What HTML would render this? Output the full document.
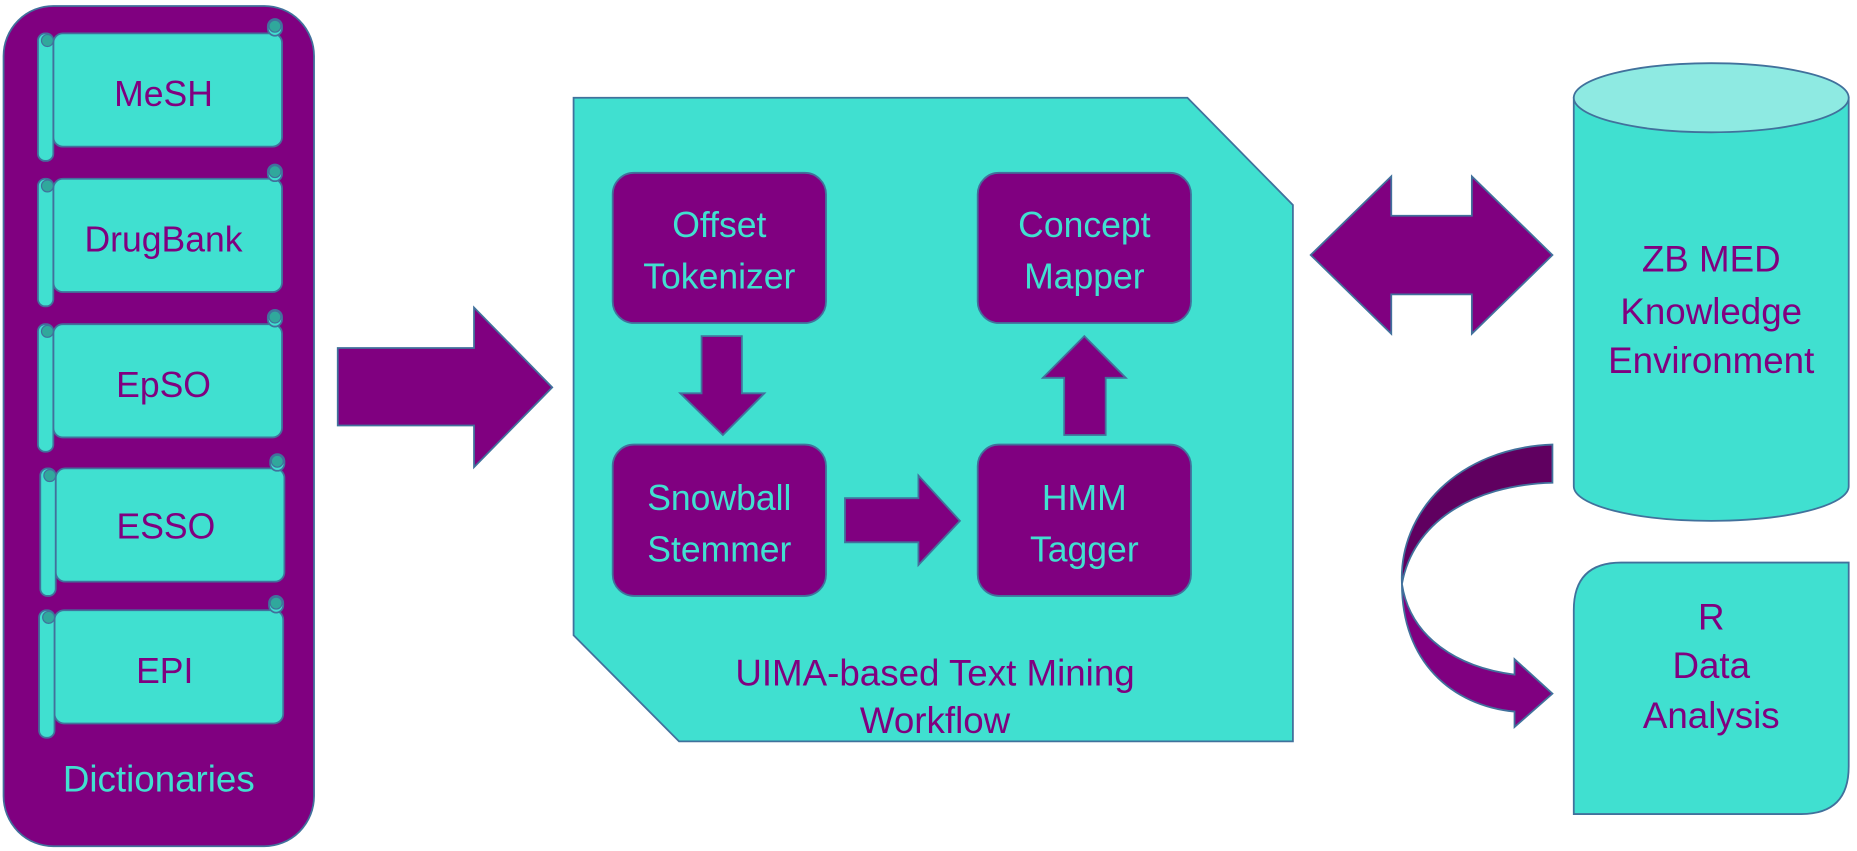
<!DOCTYPE html>
<html><head><meta charset="utf-8"><style>
html,body{margin:0;padding:0;background:#fff;overflow:hidden}
svg{display:block}
text{font-family:"Liberation Sans","DejaVu Sans",sans-serif;text-anchor:middle}
</style></head><body>
<svg width="1857" height="851" viewBox="0 0 1567 714" preserveAspectRatio="none">
<defs>
<g id="scroll">
<rect x="13" y="12" width="193" height="95" rx="8" fill="#40E0D0" stroke="#41719C" stroke-width="1.5"/>
<rect x="0" y="12" width="13" height="107" rx="6" fill="#40E0D0" stroke="#41719C" stroke-width="1.5"/>
<ellipse cx="8" cy="18" rx="5" ry="5" fill="#30a89c" stroke="#41719C" stroke-width="1"/>
<rect x="194" y="0" width="12" height="14" rx="6" fill="#40E0D0" stroke="#41719C" stroke-width="1.5"/>
<ellipse cx="200" cy="6" rx="5" ry="5" fill="#30a89c" stroke="#41719C" stroke-width="1"/>
</g>
</defs>
<g stroke="#41719C" stroke-width="1.5">
<rect x="3" y="5" width="262" height="705" rx="42" fill="#800080"/>
</g>
<use href="#scroll" x="32" y="16"/>
<use href="#scroll" x="32" y="138"/>
<use href="#scroll" x="32" y="260"/>
<use href="#scroll" x="34" y="381"/>
<use href="#scroll" x="33" y="500"/>
<g fill="#800080" font-size="30">
<text x="138" y="89">MeSH</text>
<text x="138" y="211">DrugBank</text>
<text x="138" y="333">EpSO</text>
<text x="140" y="452">ESSO</text>
<text x="139" y="573">EPI</text>
</g>
<text x="134" y="664" font-size="31" fill="#40E0D0">Dictionaries</text>
<g fill="#800080" stroke="#41719C" stroke-width="1.5">
<polygon points="285,292 400,292 400,258 466,325 400,392 400,357 285,357"/>
</g>
<polygon points="484,82 1002,82 1091,172 1091,622 573,622 484,533" fill="#40E0D0" stroke="#41719C" stroke-width="1.5"/>
<g fill="#800080" stroke="#41719C" stroke-width="1.5">
<rect x="517" y="145" width="180" height="126" rx="18"/>
<rect x="825" y="145" width="180" height="126" rx="18"/>
<rect x="517" y="373" width="180" height="127" rx="18"/>
<rect x="825" y="373" width="180" height="127" rx="18"/>
<polygon points="592,282 626,282 626,330 645,330 610,365 574,330 592,330"/>
<polygon points="713,418 775,418 775,399 810,437 775,474 775,455 713,455"/>
<polygon points="898,365 933,365 933,317 950,317 915,282 880,317 898,317"/>
<polygon points="1106,214 1174,148 1174,181 1242,181 1242,148 1310,214 1242,280 1242,247 1174,247 1174,280"/>
</g>
<g fill="#40E0D0" font-size="30">
<text x="607" y="199">Offset</text>
<text x="607" y="242">Tokenizer</text>
<text x="915" y="199">Concept</text>
<text x="915" y="242">Mapper</text>
<text x="607" y="428">Snowball</text>
<text x="607" y="471">Stemmer</text>
<text x="915" y="428">HMM</text>
<text x="915" y="471">Tagger</text>
</g>
<g fill="#800080" font-size="31">
<text x="789" y="575">UIMA-based Text Mining</text>
<text x="789" y="615">Workflow</text>
</g>
<g stroke="#41719C" stroke-width="1.5">
<path d="M1328,82 L1328,408 A116,29 0 0 0 1560,408 L1560,82 Z" fill="#40E0D0"/>
<ellipse cx="1444" cy="82" rx="116" ry="29" fill="#8EEAE2"/>
<path d="M1368,472 L1560,472 L1560,643 Q1560,683 1520,683 L1328,683 L1328,512 Q1328,472 1368,472 Z" fill="#40E0D0"/>
<path d="M1310,373 L1310,405 C1240,407 1192,440 1183,490 C1180,430 1230,376 1310,373 Z" fill="#600060"/>
<path d="M1183,490 C1190,535 1230,560 1278,566 L1278,553 L1310,582 L1278,610 L1278,597 C1225,592 1183,555 1183,490 Z" fill="#800080"/>
</g>
<g fill="#800080" font-size="31">
<text x="1444" y="228">ZB MED</text>
<text x="1444" y="272">Knowledge</text>
<text x="1444" y="313">Environment</text>
<text x="1444" y="528">R</text>
<text x="1444" y="569">Data</text>
<text x="1444" y="611">Analysis</text>
</g>
</svg>
</body></html>
